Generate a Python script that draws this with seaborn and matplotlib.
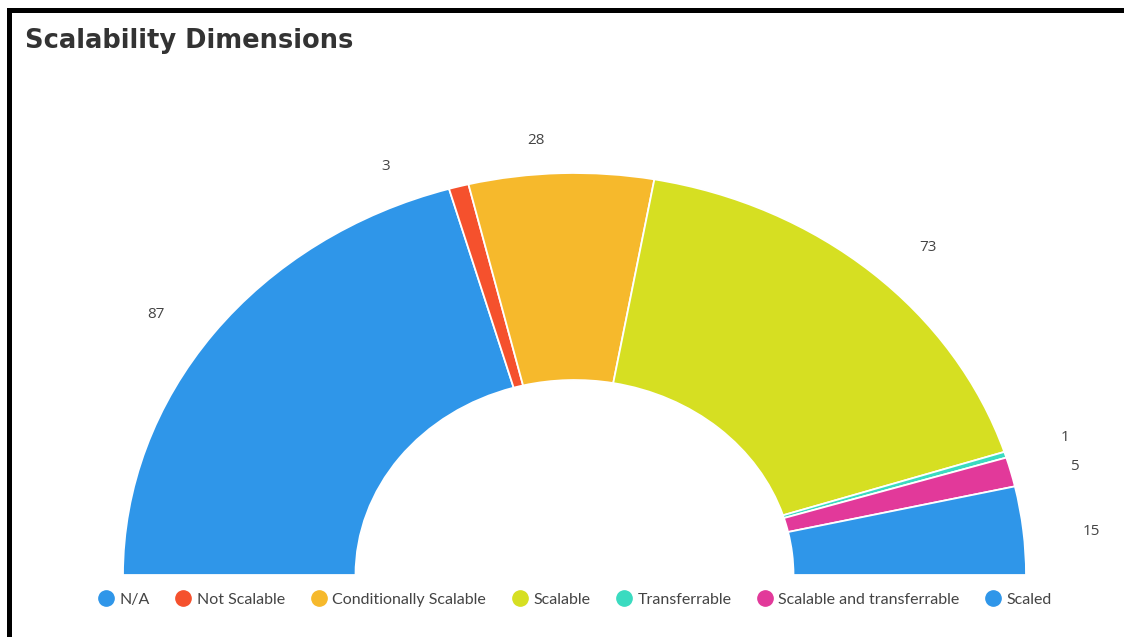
import matplotlib
matplotlib.use("Agg")
import matplotlib.pyplot as plt
from matplotlib.lines import Line2D
from matplotlib.patches import Rectangle
import numpy as np
import seaborn as sns

# ---- data ----
categories = ["N/A", "Not Scalable", "Conditionally Scalable", "Scalable",
              "Transferrable", "Scalable and transferrable", "Scaled"]
values = [87, 3, 28, 73, 1, 5, 15]
colors = ["#2F96E9", "#F5512D", "#F6B92C", "#D6DF22", "#3ADBC0", "#E2399A", "#2F96E9"]
title = "Scalability Dimensions"

sns.set_theme(style="white")
plt.rcParams["font.family"] = ["Open Sans", "DejaVu Sans"]

W, H = 1124, 637
fig = plt.figure(figsize=(W / 100, H / 100), dpi=100)
fig.patch.set_facecolor("white")

ax = fig.add_axes([0, 0, 1, 1])
total = sum(values)
# full circle where the hidden bottom half equals the sum of values
pie_vals = values + [total]
pie_cols = colors + ["none"]
wedges, _ = ax.pie(pie_vals, colors=pie_cols, startangle=180, counterclock=False,
                   radius=1.0,
                   wedgeprops=dict(width=0.515, edgecolor="white", linewidth=1.3))
wedges[-1].set_visible(False)
ax.set_aspect("auto")

# map pixel geometry: center (574.5, 575), Rx=451.5 px, Ry=402 px
cx, cy, rx, ry = 574.5, 575.0, 451.5, 402.0
ax.set_xlim(-cx / rx, (W - cx) / rx)
ax.set_ylim(-(H - cy) / ry, cy / ry)
ax.axis("off")

# value labels outside the arc
label_r = [1.13, 1.10, 1.085, 1.13, 1.14, 1.14, 1.15]
angle_nudge = [2.0, 7.5, 2.8, -2.7, 0.1, -1.2, -1.0]
cum = np.cumsum([0] + values)
for i, v in enumerate(values):
    mid = 180 - (cum[i] + v / 2) / (2 * total) * 360 + angle_nudge[i]
    a = np.deg2rad(mid)
    ax.text(label_r[i] * np.cos(a), label_r[i] * np.sin(a), str(v),
            ha="center", va="center", fontsize=11, color="#444444")

# title
fig.text(25 / W, 1 - 41 / H, title, fontsize=18.5, fontweight="bold",
         color="#333333", ha="left", va="center", family=["DejaVu Sans"])

# legend
handles = [Line2D([0], [0], marker="o", linestyle="none", markersize=11,
                  markerfacecolor=c, markeredgecolor=c) for c in colors]
leg = fig.legend(handles, categories, loc="center", ncol=len(categories),
                 bbox_to_anchor=(575 / W, 1 - 600 / H), frameon=False,
                 handletextpad=0.35, columnspacing=1.6, handlelength=1.0,
                 prop={"family": "Lato", "size": 11.5})
for t in leg.get_texts():
    t.set_color("#444444")

# black frame lines (top and left)
fig.add_artist(Rectangle((7 / W, 1 - 13 / H), 1 - 7 / W, 5 / H,
                         transform=fig.transFigure, facecolor="black",
                         edgecolor="none"))
fig.add_artist(Rectangle((7 / W, 0), 5 / W, 1 - 8 / H,
                         transform=fig.transFigure, facecolor="black",
                         edgecolor="none"))

fig.savefig("out.png", dpi=100, facecolor="white")
